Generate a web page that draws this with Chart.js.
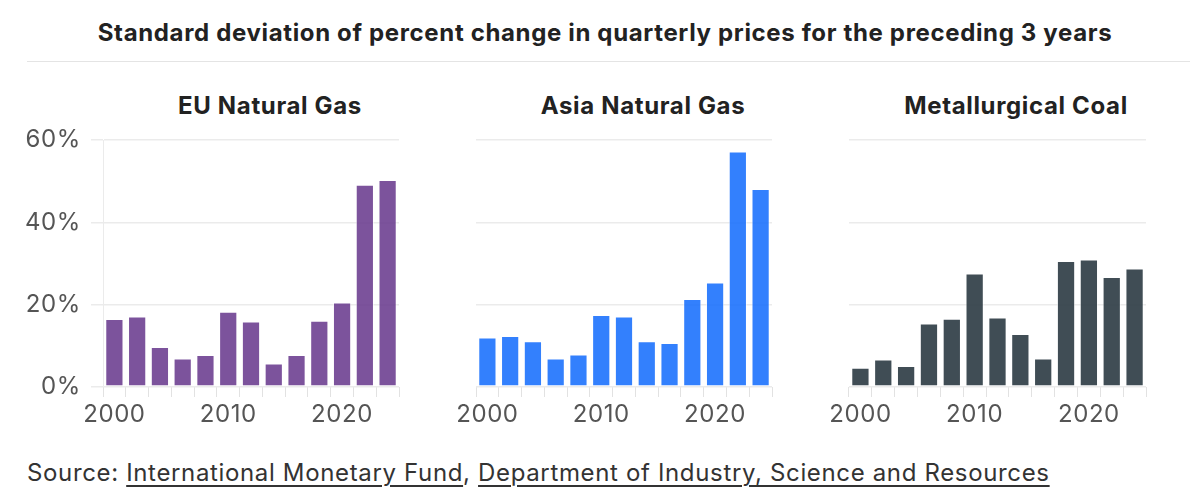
<!DOCTYPE html>
<html>
<head>
<meta charset="utf-8">
<script src="https://cdn.jsdelivr.net/npm/chart.js@4.4.1/dist/chart.umd.min.js"></script>
<style>
  html, body { margin:0; padding:0; background:#fff; }
  body { width:1200px; height:504px; position:relative; overflow:hidden; font-family: Inter, "Noto Sans", sans-serif; letter-spacing:0.65px; }
  #title { position:absolute; left:0; width:1210px; top:18px; text-align:center; font-weight:700; font-size:24px; line-height:29px; color:#222; }
  #rule { position:absolute; left:27px; width:1163px; top:61px; height:1px; background:#e4e4e4; }
  .ptitle { position:absolute; top:91px; width:300px; text-align:center; font-weight:700; font-size:24px; line-height:29px; color:#222; }
  .wrap { position:absolute; top:100px; height:330px; }
  #source { position:absolute; left:27px; top:458px; font-size:24px; line-height:29px; color:#333; white-space:nowrap; }
  #source a { color:#333; text-decoration:underline; text-decoration-thickness:1.5px; text-underline-offset:4px; }
</style>
</head>
<body>
<div id="title">Standard deviation of percent change in quarterly prices for the preceding 3 years</div>
<div id="rule"></div>
<div class="ptitle" style="left:120px">EU Natural Gas</div>
<div class="ptitle" style="left:493px">Asia Natural Gas</div>
<div class="ptitle" style="left:866px">Metallurgical Coal</div>
<div class="wrap" style="left:0;width:400px"><canvas id="c1" width="400" height="330"></canvas></div>
<div class="wrap" style="left:446px;width:327px"><canvas id="c2" width="327" height="330"></canvas></div>
<div class="wrap" style="left:819px;width:328px"><canvas id="c3" width="328" height="330"></canvas></div>
<div id="source">Source: <a>International Monetary Fund</a>, <a>Department of Industry, Science and Resources</a></div>
<script>
const years = ["2000","2002","2004","2006","2008","2010","2012","2014","2016","2018","2020","2022","2024"];
const euGas   = [16.5, 17.1, 9.7, 6.9, 7.8, 18.3, 15.9, 5.7, 7.8, 16.1, 20.5, 49.1, 50.3];
const asiaGas = [12.0, 12.4, 11.1, 6.9, 7.9, 17.5, 17.1, 11.1, 10.7, 21.4, 25.4, 57.2, 48.1];
const metCoal = [4.7, 6.7, 5.1, 15.4, 16.6, 27.6, 16.9, 12.9, 6.9, 30.6, 31.0, 26.7, 28.8];
const yTicks = [0, 20, 40, 60];

const tickFont = { family: "Inter", size: 24 };
const gridColor = "#ebebeb";

const spacingPlugin = {
  id: "spacing",
  beforeLayout(chart) { chart.ctx.letterSpacing = "0.6px"; },
  beforeDraw(chart) { chart.ctx.letterSpacing = "0.6px"; }
};

function makeChart(id, data, color, showY) {
  new Chart(document.getElementById(id), {
    type: "bar",
    plugins: [spacingPlugin],
    data: { labels: years, datasets: [{ data: data, backgroundColor: color, borderColor: "rgba(255,255,255,0.55)", borderWidth: 1, borderSkipped: false, categoryPercentage: 1, barPercentage: 0.8 }] },
    options: {
      responsive: false, animation: false,
      layout: { padding: { top: 40, right: 1, left: showY ? 0 : 30, bottom: 0 } },
      plugins: { legend: { display: false }, tooltip: { enabled: false } },
      scales: {
        x: {
          grid: { display: true, drawOnChartArea: false, drawTicks: true, tickLength: 10, color: "#e2e2e2" },
          border: { display: false },
          ticks: { autoSkip: false, maxRotation: 0, minRotation: 0, padding: 3, color: "#555", font: tickFont,
                   callback: function(v, i) { const y = years[i]; return (+y % 10 === 0) ? y : ""; } },
          afterFit: function(s) { s.height = 43; s.paddingLeft = 0; s.paddingRight = 0; }
        },
        y: {
          min: 0, max: 60,
          afterBuildTicks: function(s) { s.ticks = yTicks.map(v => ({ value: v })); },
          grid: { color: gridColor, drawTicks: showY, tickLength: 12, lineWidth: 1.5 },
          border: { display: showY, color: gridColor },
          ticks: { display: showY, padding: 10, color: "#555", font: tickFont, callback: v => v + "%" },
          afterFit: function(s) { s.width = showY ? 103 : 0; s.paddingTop = 0; s.paddingBottom = 0; }
        }
      }
    }
  });
}
makeChart("c1", euGas, "rgba(110,64,145,0.9)", true);
makeChart("c2", asiaGas, "rgba(23,110,253,0.88)", false);
makeChart("c3", metCoal, "rgba(50,64,72,0.93)", false);
</script>
</body>
</html>
